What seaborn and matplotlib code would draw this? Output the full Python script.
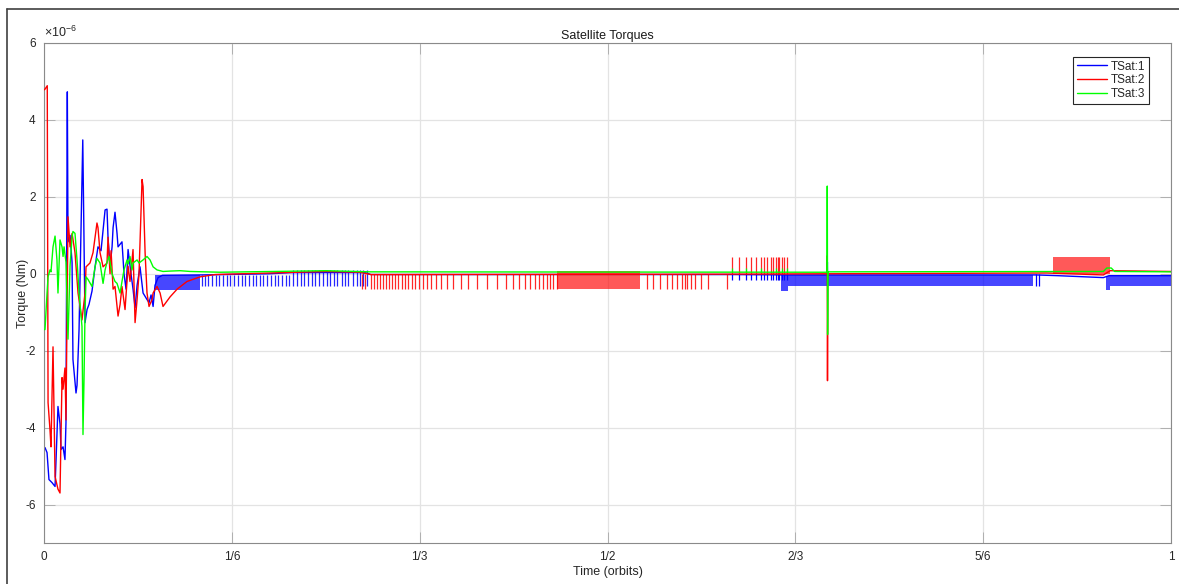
import numpy as np
import pandas as pd
import matplotlib.pyplot as plt
from matplotlib.lines import Line2D
import seaborn as sns

sns.set_style('ticks')
plt.rcParams['font.family'] = ['Liberation Sans', 'DejaVu Sans']
plt.rcParams['axes.unicode_minus'] = False
plt.rcParams['mathtext.default'] = 'regular'

# ---- data: time in orbits, torque in 1e-6 Nm ----
# TSat:1 (blue) main trace
blue_t = [0, .0009, .0027, .0044, .0071, .0098, .0107, .0124, .0142, .0151, .0169, .0186, .0195,
          .0207, .0213, .0231, .0249, .0257, .0284, .0293, .0311, .0344, .0364, .0382, .0399,
          .0426, .0453, .0479, .0506, .0542, .0559, .0568, .0586, .0604, .0613, .0630, .0648,
          .0657, .0692, .0710, .0728, .0746, .0772, .0790, .0808, .0826, .0852, .0879, .0914,
          .0932, .0950, .0968, .0985, .1012,
          .105, .14, .2, .22, .285, .29, .61, .66, .6948, .6951, .6953, .6956, .88, .90, .94,
          .945, 1.0]
blue_v = [-4.55, -4.52, -4.65, -5.35, -5.43, -5.53, -4.83, -3.45, -3.9, -4.57, -4.5, -4.83, -3.87,
          4.73, 0.83, 1.0, 0.3, -2.23, -3.1, -2.9, -1.45, 3.48, -1.27, -0.93, -0.8,
          -0.45, 0.18, 0.7, 0.6, 1.66, 1.68, 0.95, 0.18, 0.7, 1.2, 1.6, 1.05,
          0.7, 0.83, 0.0, -0.4, 0.63, 0.0, -0.4, -0.88, -0.3, 0.18, -0.5, -0.67,
          -0.75, -0.55, -0.85, -0.3, -0.1,
          -0.04, -0.03, 0.0, 0.03, 0.03, -0.02, -0.02, -0.03, -0.03, 0.3, -0.3, -0.03, -0.03,
          -0.05, -0.1, -0.05, -0.05]

# TSat:2 (red) main trace
red_t = [0, .0009, .0029, .0036, .0053, .0062, .0080, .0098, .0124, .0142, .0160, .0169, .0186,
         .0195, .0213, .0231, .0249, .0275, .0302, .0337, .0364, .0373, .0408, .0435, .0470,
         .0479, .0497, .0524, .0559, .0568, .0586, .0595, .0613, .0630, .0657, .0675, .0692,
         .0719, .0746, .0763, .0790, .0808, .0826, .0843, .0870, .0879, .0897, .0914, .0932,
         .0959, .0968, .1003, .1030, .1056, .1119, .1181, .1269, .1385, .1518,
         .2, .25, .28, .29, .6, .6948, .6950, .6952, .6955, .89, .94, .946, 1.0]
red_v = [4.78, 4.8, 4.89, -3.35, -4.05, -4.5, -1.9, -5.27, -5.6, -5.7, -2.7, -3.0, -2.45,
         -3.8, 1.48, 0.7, 1.05, 0.55, -0.5, -1.2, -0.5, 0.18, 0.28, 0.55, 1.32,
         1.2, 0.55, 0.18, 0.28, 0.95, 0.0, 0.6, -0.4, -0.33, -1.1, -0.8, -0.33,
         -0.93, 0.2, -0.2, 0.63, -1.27, -0.67, 0.0, 2.45, 2.27, 0.55, -0.5, -0.85,
         -0.67, -0.5, -0.33, -0.5, -0.85, -0.6, -0.4, -0.2, -0.08, -0.02,
         0.02, 0.06, 0.04, -0.02, -0.01, 0.0, 0.47, -2.78, 0.0, 0.02, -0.03, 0.08, 0.06]

# TSat:3 (green) main trace
green_t = [0, .0009, .0027, .0036, .0053, .0062, .0080, .0098, .0115, .0124, .0142, .0160, .0169,
           .0178, .0195, .0213, .0231, .0249, .0257, .0275, .0293, .0311, .0337, .0346, .0355,
           .0364, .0373, .0391, .0426, .0453, .0470, .0497, .0524, .0542, .0559, .0577, .0604,
           .0630, .0648, .0675, .0692, .0710, .0737, .0746, .0763, .0781, .0790, .0826, .0843,
           .0879, .0914, .0941, .0968, .1003, .1056, .1119, .1207, .1296, .1562,
           .25, .29, .6948, .6950, .6953, .6956, .94, .943, .947, .95, 1.0]
green_v = [-1.45, -1.45, -0.5, -0.08, 0.1, 0.05, 0.7, 0.98, 0.36, -0.5, 0.88, 0.7, 0.45,
           0.7, 0.3, -1.7, 0.2, 0.96, 1.1, 1.05, 0.36, -0.5, -1.37, -4.18, -2.75,
           -1.0, -0.08, -0.15, -0.33, 0.18, 0.4, 0.28, -0.25, 0.1, 0.3, 0.45, 0.0,
           -0.2, -0.25, -0.5, -0.2, 0.1, 0.36, 0.25, 0.45, 0.1, 0.28, 0.36, 0.28,
           0.36, 0.45, 0.36, 0.18, 0.1, 0.06, 0.07, 0.08, 0.06, 0.04,
           0.08, 0.05, 0.04, 2.28, -1.58, 0.05, 0.06, 0.15, 0.15, 0.06, 0.05]

# blue downward spikes (sparse part)
blue_spk_a = [.1403, .1429, .1456, .1491, .1527, .1553, .1589, .1625, .1651, .1687, .1722, .1758,
              .1784, .1820, .1855, .1882, .1917, .1944, .1980, .2015, .2051, .2077, .2113, .2148,
              .2175]
blue_spk_b = [.2210, .2246, .2281, .2308, .2344, .2379, .2406, .2441, .2477, .2512, .2539, .2574,
              .2601, .2645, .2672, .2699, .2743, .2779, .2805, .2832, .2867]
# red downward spikes
red_spk = [.2823, .2850, .2903, .2929, .2956, .2983, .3009, .3036, .3063, .3089, .3116, .3142,
           .3178, .3205, .3231, .3267, .3293, .3329, .3364, .3400, .3435, .3480, .3524, .3577,
           .3631, .3702, .3764, .3844, .3933, .4021, .4101, .4163, .4217, .4270, .4314, .4359,
           .4394, .4430, .4465, .4492, .4519, .4554,
           .5353, .5406, .5468, .5530, .5575, .5619, .5664, .5690, .5708, .5744, .5779, .5832,
           .5894, .6063]
# red upward spikes before the 2/3 event
red_up = [.6107, .6170, .6232, .6276, .6321, .6365, .6391, .6418, .6453, .6471, .6498, .6516,
          .6525, .6551, .6569, .6596]
green_up = [.6107, .6232, .6365, .6498, .6551, .6596]
blue_extra = [.8803, .8833]

# dense bands: (start, end, low, high)
blue_bands = [(.0985, .1385, -0.41, -0.02), (.6536, .6605, -0.45, -0.03),
              (.6605, .8775, -0.33, -0.02), (.9427, .9463, -0.42, -0.05),
              (.9463, 1.0, -0.33, -0.05)]
red_bands = [(.4554, .5291, -0.39, 0.08), (.8957, .9463, 0.0, 0.44)]

labels = ['TSat:1', 'TSat:2', 'TSat:3']
colors = ['#0000ff', '#ff0000', '#00ff00']

fig = plt.figure(figsize=(11.79, 5.84), dpi=100)
ax = fig.add_axes([44/1179, 1-543/584, 1127/1179, 500/584])

lw = 1.0
# blue
for t0, t1, lo, hi in blue_bands:
    ax.fill_between([t0, t1], [lo, lo], [hi, hi], color=colors[0], alpha=0.72, lw=0, zorder=2)
ax.vlines(blue_spk_a, -0.33, -0.02, color=colors[0], lw=0.9, alpha=0.85, zorder=2)
ax.vlines(blue_spk_b, -0.33, 0.1, color=colors[0], lw=0.9, alpha=0.85, zorder=2)
ax.vlines(red_up, -0.15, 0.0, color=colors[0], lw=0.9, zorder=2)
ax.vlines(blue_extra, -0.33, 0.0, color=colors[0], lw=0.9, zorder=2)
sns.lineplot(x=blue_t, y=blue_v, sort=False, estimator=None, color=colors[0], lw=lw,
             ax=ax, zorder=2)
# red
for t0, t1, lo, hi in red_bands:
    ax.fill_between([t0, t1], [lo, lo], [hi, hi], color=colors[1], alpha=0.65, lw=0, zorder=3)
ax.vlines(red_spk, -0.39, 0.0, color=colors[1], lw=0.9, alpha=0.85, zorder=3)
ax.vlines(red_up, 0.0, 0.44, color=colors[1], lw=0.9, alpha=0.85, zorder=3)
sns.lineplot(x=red_t, y=red_v, sort=False, estimator=None, color=colors[1], lw=lw,
             ax=ax, zorder=3)
# green
ax.vlines(green_up, 0.04, 0.15, color=colors[2], lw=0.9, zorder=4)
sns.lineplot(x=green_t, y=green_v, sort=False, estimator=None, color=colors[2], lw=lw,
             ax=ax, zorder=4)

ax.set_xlim(0, 1)
ax.set_ylim(-7, 6)
ax.set_xticks([0, 1/6, 1/3, 1/2, 2/3, 5/6, 1])
ax.set_xticklabels(['0', '1/6', '1/3', '1/2', '2/3', '5/6', '1'])
ax.set_yticks([-6, -4, -2, 0, 2, 4, 6])
ax.grid(True, color='#e3e3e3', lw=0.9)
ax.set_axisbelow(True)
ax.tick_params(direction='in', length=8, width=0.5, color='#9a9a9a', labelcolor='#262626',
               labelsize=8.5, top=True, right=True, pad=6)
for s in ax.spines.values():
    s.set_color('#8a8a8a')
    s.set_linewidth(0.8)

ax.set_title('Satellite Torques', fontsize=9, color='#1a1a1a', pad=3)
ax.set_xlabel('Time (orbits)', fontsize=9, color='#262626', labelpad=2)
ax.set_ylabel('Torque (Nm)', fontsize=9, color='#262626', labelpad=-3)
ax.text(0.0, 1.006, r'$\times10^{-6}$', transform=ax.transAxes, ha='left', va='bottom',
        fontsize=9, color='#262626')

handles = [Line2D([], [], color=c, lw=1.0) for c in colors]
leg = ax.legend(handles, labels, loc='upper right', bbox_to_anchor=(0.9805, 0.972),
                borderaxespad=0, fontsize=8.5, frameon=True, fancybox=False,
                framealpha=1, edgecolor='#262626', handlelength=2.6, handletextpad=0.3,
                labelspacing=0.15, borderpad=0.3)
leg.get_frame().set_linewidth(0.8)

# screenshot frame
fig.add_artist(Line2D([7/1179, 7/1179], [0, 1-9/584], transform=fig.transFigure,
                      color='#404040', lw=1.2))
fig.add_artist(Line2D([7/1179, 1], [1-9/584, 1-9/584], transform=fig.transFigure,
                      color='#404040', lw=1.2))

fig.savefig('out.png', dpi=100)
